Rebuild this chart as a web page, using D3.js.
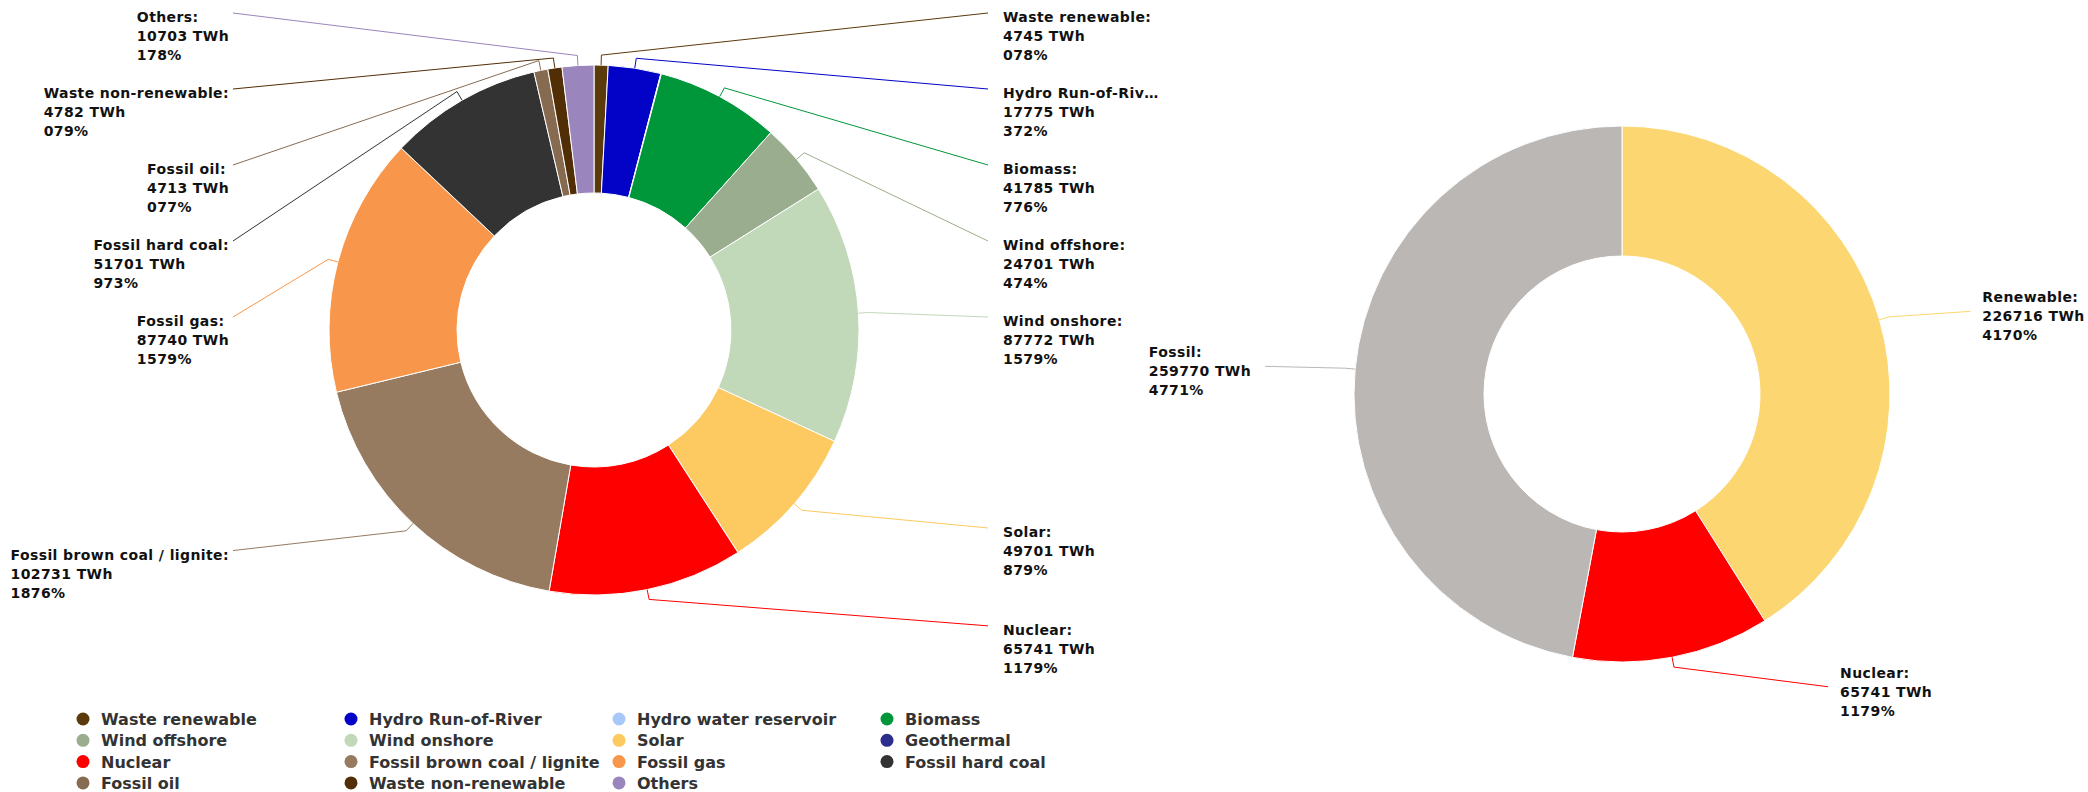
<!DOCTYPE html>
<html>
<head>
<meta charset="utf-8">
<script src="https://cdn.jsdelivr.net/npm/d3@7"></script>
<style>
  body { margin: 0; background: #fff; }
  text { font-family: "DejaVu Sans", Verdana, sans-serif; font-weight: bold; }
</style>
</head>
<body>
<svg id="chart" width="2088" height="792"></svg>
<script>
// generation by source, in pie order (clockwise from 12 o'clock)
const sources = [
  "Waste renewable", "Hydro Run-of-River", "Hydro water reservoir", "Biomass",
  "Wind offshore", "Wind onshore", "Solar", "Geothermal",
  "Nuclear", "Fossil brown coal / lignite", "Fossil gas", "Fossil hard coal",
  "Fossil oil", "Waste non-renewable", "Others"
];
const sourceValues = [4745, 17775, 200, 41785, 24701, 87772, 49701, 37, 65741, 102731, 87740, 51701, 4713, 4782, 10703];
const sourcePercents = [0.78, 3.72, 0.04, 7.76, 4.74, 15.79, 8.79, 0.01, 11.79, 18.76, 15.79, 9.73, 0.77, 0.79, 1.78];
const sourceColors = [
  "#5b3a0c", "#0303c8", "#a8c8f8", "#00963a",
  "#9aae8f", "#c1d8b9", "#fdc961", "#2c2c8c",
  "#ff0000", "#967b60", "#f8974b", "#333333",
  "#876b50", "#512e05", "#9a86bd"
];

// generation by group
const groups = ["Renewable", "Nuclear", "Fossil"];
const groupValues = [226716, 65741, 259770];
const groupPercents = [41.70, 11.79, 47.71];
const groupColors = ["#fcd771", "#ff0000", "#bab7b4"];

const svg = d3.select("#chart");

// the percentages come out without their decimal point in the original
const fmtPct = p => d3.format(".2f")(p).replace(".", "") + "%";

function toRows(names, values, pcts, colors) {
  return names.map((name, i) => ({ name, value: values[i], pct: pcts[i], color: colors[i] }));
}

function distribute(items, top, bottom, gap) {
  items.sort((a, b) => a.ny - b.ny);
  const clusters = items.map(it => ({ members: [it] }));
  const place = c => {
    const n = c.members.length;
    const mean = d3.mean(c.members, m => m.ny);
    c.start = Math.max(top, Math.min(bottom - (n - 1) * gap, mean - (n - 1) * gap / 2));
  };
  clusters.forEach(place);
  let merged = true;
  while (merged) {
    merged = false;
    for (let i = 0; i < clusters.length - 1; i++) {
      const a = clusters[i], b = clusters[i + 1];
      if (a.start + a.members.length * gap > b.start) {
        a.members = a.members.concat(b.members);
        clusters.splice(i + 1, 1);
        place(a);
        merged = true;
        break;
      }
    }
  }
  clusters.forEach(c => c.members.forEach((m, k) => { m.y = c.start + k * gap; }));
}

function drawDonut(cfg) {
  const pie = d3.pie().sort(null).value(d => d.value);
  const arcs = pie(cfg.data);
  const arc = d3.arc().innerRadius(cfg.inner).outerRadius(cfg.outer);

  const g = svg.append("g");

  g.append("g")
    .attr("transform", `translate(${cfg.cx},${cfg.cy})`)
    .selectAll("path")
    .data(arcs)
    .join("path")
    .attr("d", arc)
    .attr("fill", d => d.data.color)
    .attr("stroke", "#fff")
    .attr("stroke-width", 1)
    .attr("stroke-linejoin", "round");

  // labels: tiny slices get none, like the original
  const labelled = arcs.filter(a => a.endAngle - a.startAngle > 0.01);
  labelled.forEach(a => {
    a.mid = (a.startAngle + a.endAngle) / 2;
    a.side = Math.sin(a.mid) >= 0 ? 1 : -1;
    a.ny = cfg.cy - cfg.labelRadius * Math.cos(a.mid);
  });
  [1, -1].forEach(side => {
    distribute(labelled.filter(a => a.side === side), cfg.top, cfg.bottom, cfg.gap);
  });

  const line = d3.line();

  labelled.forEach(a => {
    const s = Math.sin(a.mid), c = Math.cos(a.mid);
    let endX;
    if (cfg.edges) {
      endX = a.side > 0 ? cfg.edges[1] : cfg.edges[0];
    } else {
      const dy = a.y - cfg.cy;
      endX = cfg.cx + a.side * Math.sqrt(Math.max(0, cfg.labelRadiusX ** 2 - dy * dy));
    }

    g.append("path")
      .attr("d", line([
        [cfg.cx + cfg.outer * s, cfg.cy - cfg.outer * c],
        [cfg.cx + (cfg.outer + 10) * s, cfg.cy - (cfg.outer + 10) * c],
        [endX, a.y]
      ]))
      .attr("fill", "none")
      .attr("stroke", a.data.color)
      .attr("stroke-width", 1);

    const lines = [a.data.name + ":", a.data.value + " TWh", fmtPct(a.data.pct)];
    const text = g.append("text")
      .attr("y", a.y + cfg.textDy)
      .style("font-size", "14px")
      .style("letter-spacing", "0.4px")
      .style("fill", "#111");
    const spans = lines.map((t, k) => text.append("tspan")
      .attr("dy", k === 0 ? 0 : 19)
      .text(t));

    if (a.side > 0) {
      const x0 = endX + cfg.gapRight;
      const maxW = cfg.plotRight - x0;
      spans.forEach(sp => {
        const node = sp.node();
        let t = sp.text();
        if (node.getComputedTextLength() > maxW) {
          while (t.length > 1) {
            t = t.slice(0, -1);
            sp.text(t + "\u2026");
            if (node.getComputedTextLength() <= maxW) break;
          }
        }
        sp.attr("x", x0);
      });
    } else {
      const w = d3.max(spans, sp => sp.node().getComputedTextLength());
      const x0 = endX - cfg.gapLeft - w;
      spans.forEach(sp => sp.attr("x", x0));
    }
  });

  return arcs;
}

const leftData = toRows(sources, sourceValues, sourcePercents, sourceColors);
const rightData = toRows(groups, groupValues, groupPercents, groupColors);

drawDonut({
  data: leftData, cx: 594, cy: 330, outer: 265, inner: 137,
  labelRadius: 302, edges: [233, 988], gapLeft: 4, gapRight: 15,
  plotRight: 1165, top: 13, bottom: 700, gap: 76, textDy: 9
});

drawDonut({
  data: rightData, cx: 1622, cy: 394, outer: 268, inner: 138,
  labelRadius: 298, labelRadiusX: 358, gapLeft: 14, gapRight: 12,
  plotRight: 2086, top: 13, bottom: 740, gap: 76, textDy: -9
});

// legend under the left chart
const legendCols = 4, colWidth = 268, rowHeight = 21.3;
const legend = svg.append("g").attr("transform", "translate(83,719)");
const item = legend.selectAll("g")
  .data(leftData)
  .join("g")
  .attr("transform", (d, i) => `translate(${(i % legendCols) * colWidth},${Math.floor(i / legendCols) * rowHeight})`);
item.append("circle")
  .attr("r", 6.5)
  .attr("fill", d => d.color);
item.append("text")
  .attr("x", 18)
  .attr("y", 6)
  .style("font-size", "16px")
  .style("fill", "#333")
  .text(d => d.name);
</script>
</body>
</html>
